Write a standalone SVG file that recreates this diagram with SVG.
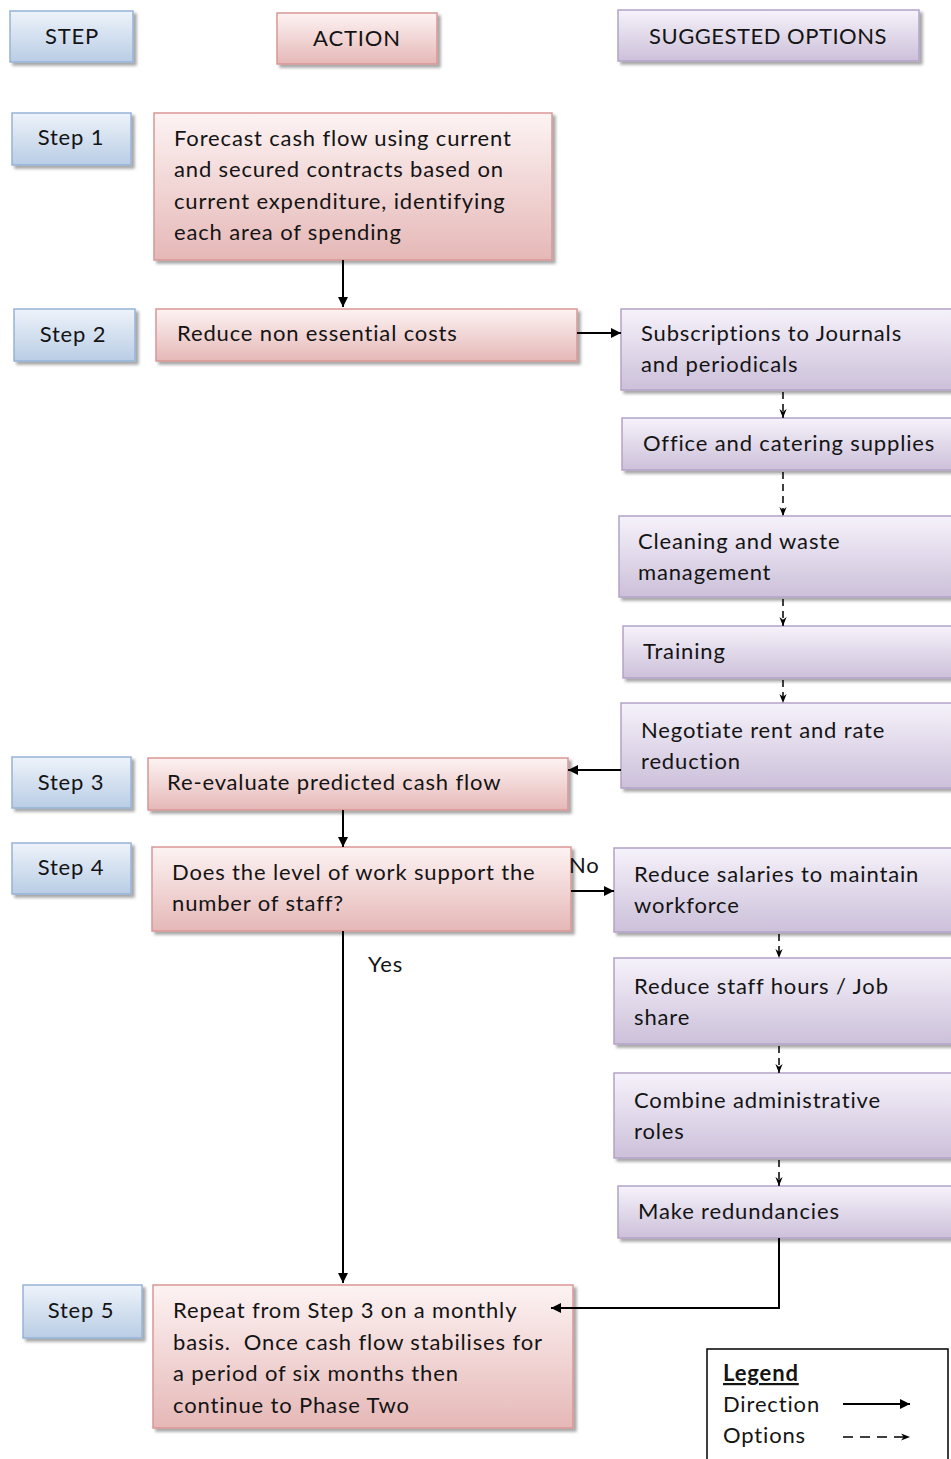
<svg xmlns="http://www.w3.org/2000/svg" width="951" height="1459" viewBox="0 0 951 1459">
  <defs>
    <linearGradient id="gStep" x1="0" y1="0" x2="0" y2="1">
      <stop offset="0" stop-color="#eef3fa"/>
      <stop offset="1" stop-color="#b9cde5"/>
    </linearGradient>
    <linearGradient id="gAction" x1="0" y1="0" x2="0" y2="1">
      <stop offset="0" stop-color="#fdf3f3"/>
      <stop offset="1" stop-color="#e5b8b7"/>
    </linearGradient>
    <linearGradient id="gOption" x1="0" y1="0" x2="0" y2="1">
      <stop offset="0" stop-color="#f6f2fa"/>
      <stop offset="1" stop-color="#ccc0da"/>
    </linearGradient>
    <filter id="shadow" x="-5%" y="-10%" width="115%" height="130%">
      <feDropShadow dx="3" dy="3" stdDeviation="1.5" flood-color="#000" flood-opacity="0.35"/>
    </filter>
    <marker id="arrow" viewBox="0 0 10 10" refX="10" refY="5" markerWidth="10" markerHeight="10" markerUnits="userSpaceOnUse" orient="auto">
      <path d="M0,0 L10,5 L0,10 z" fill="#000"/>
    </marker>
    <marker id="arrowSmall" viewBox="0 0 10 10" refX="10" refY="5" markerWidth="9" markerHeight="9" markerUnits="userSpaceOnUse" orient="auto">
      <path d="M0,1 L10,5 L0,9 L3,5 z" fill="#000"/>
    </marker>
  </defs>
  <style>
    .step { fill: url(#gStep); stroke: #95b3d7; stroke-width: 1.5; filter: url(#shadow); }
    .action { fill: url(#gAction); stroke: #d99694; stroke-width: 1.5; filter: url(#shadow); }
    .option { fill: url(#gOption); stroke: #b3a2c7; stroke-width: 1.5; filter: url(#shadow); }
    text { font-family: Lato, "Open Sans", "Liberation Sans", sans-serif; font-size: 22px; letter-spacing: 0.85px; fill: #141414; white-space: pre; }
    .c { text-anchor: middle; }
    .dir { fill: none; stroke: #000; stroke-width: 2; marker-end: url(#arrow); }
    .opt { fill: none; stroke: #000; stroke-width: 1.5; stroke-dasharray: 7 5; marker-end: url(#arrowSmall); }
  </style>

  <rect width="951" height="1459" fill="#fff"/>

  <!-- column headers -->
  <g id="hdr-step"><rect class="step" x="10" y="11" width="123" height="51"/><text class="c" x="72" y="44">STEP</text></g>
  <g id="hdr-action"><rect class="action" x="277" y="13" width="160" height="51"/><text class="c" x="357" y="46">ACTION</text></g>
  <g id="hdr-options"><rect class="option" x="618" y="10" width="301" height="51"/><text class="c" x="768" y="44" style="letter-spacing:0.5px">SUGGESTED OPTIONS</text></g>

  <!-- step labels -->
  <g id="step1"><rect class="step" x="12" y="113" width="119" height="52"/><text class="c" x="71" y="145">Step 1</text></g>
  <g id="step2"><rect class="step" x="14" y="309" width="121" height="52"/><text class="c" x="73" y="342">Step 2</text></g>
  <g id="step3"><rect class="step" x="12" y="757" width="119" height="51"/><text class="c" x="71" y="790">Step 3</text></g>
  <g id="step4"><rect class="step" x="12" y="843" width="119" height="51"/><text class="c" x="71" y="875">Step 4</text></g>
  <g id="step5"><rect class="step" x="23" y="1285" width="119" height="53"/><text class="c" x="81" y="1318">Step 5</text></g>

  <!-- actions -->
  <g id="forecast"><rect class="action" x="154" y="113" width="398" height="147"/>
    <text x="174" y="146">Forecast cash flow using current</text>
    <text x="174" y="177">and secured contracts based on</text>
    <text x="174" y="209">current expenditure, identifying</text>
    <text x="174" y="240">each area of spending</text>
  </g>
  <g id="reduce-costs"><rect class="action" x="156" y="309" width="421" height="52"/><text x="177" y="341">Reduce non essential costs</text></g>
  <g id="reevaluate"><rect class="action" x="148" y="758" width="420" height="52"/><text x="167" y="790">Re-evaluate predicted cash flow</text></g>
  <g id="staff-question"><rect class="action" x="152" y="847" width="419" height="84"/>
    <text x="172" y="880">Does the level of work support the</text>
    <text x="172" y="911">number of staff?</text>
  </g>
  <g id="repeat"><rect class="action" x="153" y="1285" width="420" height="143"/>
    <text x="173" y="1318">Repeat from Step 3 on a monthly</text>
    <text x="173" y="1350">basis.  Once cash flow stabilises for</text>
    <text x="173" y="1381">a period of six months then</text>
    <text x="173" y="1413">continue to Phase Two</text>
  </g>

  <!-- options -->
  <g id="opt-subscriptions"><rect class="option" x="621" y="309" width="340" height="81"/>
    <text x="641" y="341">Subscriptions to Journals</text>
    <text x="641" y="372">and periodicals</text>
  </g>
  <g id="opt-office"><rect class="option" x="622" y="418" width="340" height="52"/><text x="643" y="451">Office and catering supplies</text></g>
  <g id="opt-cleaning"><rect class="option" x="619" y="516" width="340" height="81"/>
    <text x="638" y="549">Cleaning and waste</text>
    <text x="638" y="580">management</text>
  </g>
  <g id="opt-training"><rect class="option" x="623" y="626" width="340" height="52"/><text x="643" y="659">Training</text></g>
  <g id="opt-rent"><rect class="option" x="621" y="703" width="340" height="85"/>
    <text x="641" y="738">Negotiate rent and rate</text>
    <text x="641" y="769">reduction</text>
  </g>
  <g id="opt-salaries"><rect class="option" x="614" y="848" width="350" height="84"/>
    <text x="634" y="882">Reduce salaries to maintain</text>
    <text x="634" y="913">workforce</text>
  </g>
  <g id="opt-hours"><rect class="option" x="614" y="958" width="350" height="86"/>
    <text x="634" y="994">Reduce staff hours / Job</text>
    <text x="634" y="1025">share</text>
  </g>
  <g id="opt-combine"><rect class="option" x="614" y="1073" width="350" height="85"/>
    <text x="634" y="1108">Combine administrative</text>
    <text x="634" y="1139">roles</text>
  </g>
  <g id="opt-redundancies"><rect class="option" x="618" y="1186" width="350" height="52"/><text x="638" y="1219">Make redundancies</text></g>

  <!-- connectors -->
  <g id="connectors">
    <line class="dir" x1="343" y1="260" x2="343" y2="307"/>
    <line class="dir" x1="577" y1="333" x2="621" y2="333"/>
    <line class="opt" x1="783" y1="392" x2="783" y2="418"/>
    <line class="opt" x1="783" y1="472" x2="783" y2="516"/>
    <line class="opt" x1="783" y1="599" x2="783" y2="626"/>
    <line class="opt" x1="783" y1="680" x2="783" y2="703"/>
    <line class="dir" x1="621" y1="770" x2="568" y2="770"/>
    <line class="dir" x1="343" y1="810" x2="343" y2="847"/>
    <line class="dir" x1="571" y1="891" x2="614" y2="891"/>
    <line class="dir" x1="343" y1="931" x2="343" y2="1283"/>
    <line class="opt" x1="779" y1="934" x2="779" y2="958"/>
    <line class="opt" x1="779" y1="1046" x2="779" y2="1073"/>
    <line class="opt" x1="779" y1="1160" x2="779" y2="1186"/>
    <polyline class="dir" points="779,1238 779,1308 551,1308"/>
    <text x="569" y="873">No</text>
    <text x="368" y="972">Yes</text>
  </g>

  <!-- legend -->
  <g id="legend">
    <rect x="707" y="1349" width="241" height="120" fill="#fff" stroke="#000" stroke-width="1.5"/>
    <text x="723" y="1381" font-weight="bold" text-decoration="underline">Legend</text>
    <text x="723" y="1412">Direction</text>
    <text x="723" y="1443">Options</text>
    <line class="dir" x1="843" y1="1404" x2="910" y2="1404"/>
    <line class="opt" x1="843" y1="1437" x2="910" y2="1437" style="stroke-dasharray:10 7"/>
  </g>
</svg>
